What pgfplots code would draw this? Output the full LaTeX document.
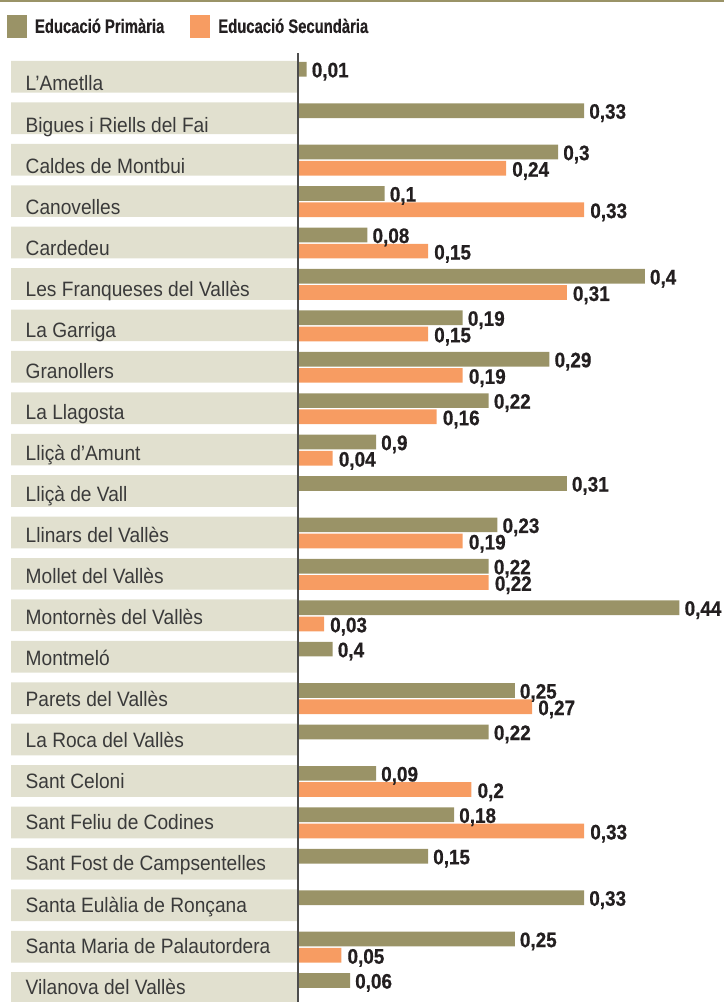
\documentclass[border=0pt]{standalone}
\usepackage{pgfplots}
\pgfplotsset{compat=1.18}
\usepackage{pgfplotstable}
\usepackage{fontspec}
\setmainfont{Liberation Sans}
\newfontfamily\catfont[FakeStretch=0.92]{Liberation Sans}
\newfontfamily\valfont[FakeStretch=0.90,FakeBold=0.6]{Liberation Sans Bold}
\newfontfamily\legfont[FakeStretch=0.76,FakeBold=0.4]{Liberation Sans Bold}
\definecolor{olivec}{HTML}{9A9367}
\definecolor{orangec}{HTML}{F79C62}
\definecolor{boxc}{HTML}{E1E0CF}
\definecolor{axisc}{HTML}{4D4D4D}
\definecolor{labc}{HTML}{3A3A3A}
\definecolor{valc}{HTML}{231F20}

\pgfplotstableread{
y x
0 -0.331
1 -0.331
2 -0.331
3 -0.331
4 -0.331
5 -0.331
6 -0.331
7 -0.331
8 -0.331
9 -0.331
10 -0.331
11 -0.331
12 -0.331
13 -0.331
14 -0.331
15 -0.331
16 -0.331
17 -0.331
18 -0.331
19 -0.331
20 -0.331
21 -0.331
22 -0.331
}\boxdata

\pgfplotstableread{
y x label
0 0.01 0,01
1 0.33 0,33
2 0.30 0,3
3 0.10 0,1
4 0.08 0,08
5 0.40 0,4
6 0.19 0,19
7 0.29 0,29
8 0.22 0,22
9 0.09 0,9
10 0.31 0,31
11 0.23 0,23
12 0.22 0,22
13 0.44 0,44
14 0.04 0,4
15 0.25 0,25
16 0.22 0,22
17 0.09 0,09
18 0.18 0,18
19 0.15 0,15
20 0.33 0,33
21 0.25 0,25
22 0.06 0,06
}\primdata

\pgfplotstableread{
y x label
2 0.24 0,24
3 0.33 0,33
4 0.15 0,15
5 0.31 0,31
6 0.15 0,15
7 0.19 0,19
8 0.16 0,16
9 0.04 0,04
11 0.19 0,19
12 0.22 0,22
13 0.03 0,03
15 0.27 0,27
17 0.20 0,2
18 0.33 0,33
21 0.05 0,05
}\secdata

\begin{document}
\begin{tikzpicture}
\begin{axis}[
  at={(0pt,0pt)}, anchor=south west,
  scale only axis, width=724pt, height=1002pt,
  xmin=-0.34371, xmax=0.49135,
  ymin=-1.8554, ymax=22.336, y dir=reverse,
  axis on top,
  axis line style={draw=none},
  xtick=\empty,
  ytick={0.3416,1.3327,2.3238,3.3148,4.3059,5.2969,6.2880,7.2791,8.2701,9.2612,10.2523,11.2433,12.2344,13.2255,14.2165,15.2076,16.1987,17.1897,18.1808,19.1719,20.1629,21.1540,22.1451},
  yticklabels={L’Ametlla,Bigues i Riells del Fai,Caldes de Montbui,Canovelles,Cardedeu,Les Franqueses del Vallès,La Garriga,Granollers,La Llagosta,Lliçà d’Amunt,Lliçà de Vall,Llinars del Vallès,Mollet del Vallès,Montornès del Vallès,Montmeló,Parets del Vallès,La Roca del Vallès,Sant Celoni,Sant Feliu de Codines,Sant Fost de Campsentelles,Santa Eulàlia de Ronçana,Santa Maria de Palautordera,Vilanova del Vallès},
  y tick label style={anchor=base west, inner sep=0pt, xshift=25.5pt, font=\catfont\fontsize{20.8}{22}\selectfont, text=labc},
  major tick length=0pt,
  tick style={draw=none},
  legend style={at={(axis description cs:0.00967,0.985)}, anchor=north west, draw=none, fill=none, inner sep=0pt, outer sep=0pt, legend columns=2, font=\legfont\fontsize{19.5}{22}\selectfont, text=valc, nodes={inner sep=0pt}, /tikz/every odd column/.append style={column sep=8pt}, /tikz/every even column/.append style={column sep=26pt}},
  legend cell align=left,
]
\addplot[xbar, bar width=31.7pt, bar shift=0pt, fill=boxc, draw=none, forget plot] table[x=x,y=y] {\boxdata};
\addplot[xbar, bar width=14.7pt, bar shift=7.6pt, fill=olivec, draw=none,
  nodes near coords, point meta=explicit symbolic,
  nodes near coords style={anchor=base west, inner sep=0pt, xshift=5pt, yshift=-0.5pt, font=\valfont\fontsize{21}{21}\selectfont, text=valc},
  legend image code/.code={\fill[olivec] (0pt,-11.5pt) rectangle (20pt,11.5pt);}]
  table[x=x,y=y,meta=label] {\primdata};
\addlegendentry{Educació Primària}
\addplot[xbar, bar width=14.7pt, bar shift=-8.6pt, fill=orangec, draw=none,
  nodes near coords, point meta=explicit symbolic,
  nodes near coords style={anchor=base west, inner sep=0pt, xshift=6pt, yshift=-17pt, font=\valfont\fontsize{21}{21}\selectfont, text=valc},
  legend image code/.code={\fill[orangec] (0pt,-11.5pt) rectangle (20pt,11.5pt);}]
  table[x=x,y=y,meta=label] {\secdata};
\addlegendentry{Educació Secundària}
\end{axis}
\draw[axisc, line width=1.6pt] (297.8pt,0pt) -- (297.8pt,949pt);
\draw[olivec, line width=1.5pt] (0pt,1001.2pt) -- (724pt,1001.2pt);
\pgfresetboundingbox
\useasboundingbox (0pt,0pt) rectangle (724pt,1002pt);
\end{tikzpicture}
\end{document}
